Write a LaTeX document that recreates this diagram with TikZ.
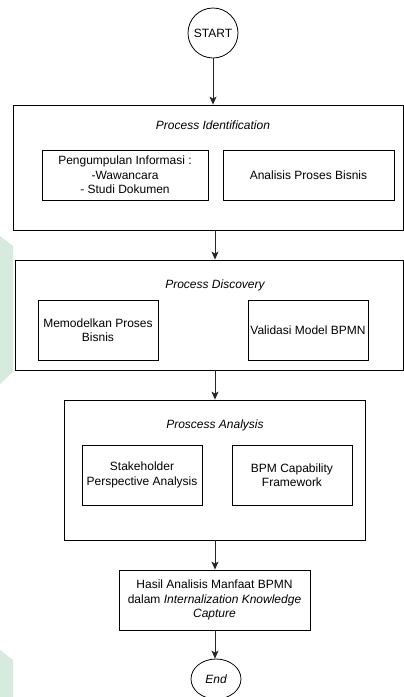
\documentclass[tikz,border=0pt]{standalone}
\usepackage{fontspec}
\setmainfont{Liberation Sans}
\usetikzlibrary{arrows.meta,shapes.geometric}
\definecolor{logogreen}{RGB}{214,234,221}
\tikzset{
  frame/.style={draw=black, line width=0.8pt, rectangle, inner sep=0pt},
  task/.style={draw=black, line width=0.8pt, rectangle, inner sep=2pt, align=center,
    font=\fontsize{12}{14.5}\selectfont},
  title/.style={font=\fontsize{12}{14.5}\selectfont\itshape, inner sep=0pt},
  flow/.style={draw=black!85, line width=0.9pt, -{Stealth[length=8pt,width=7pt,inset=2pt]}},
}
\begin{document}
\begin{tikzpicture}[x=1pt,y=-1pt]
\useasboundingbox[fill=white] (0,0) rectangle (404,697);
% faint background watermark on the left edge
\fill[logogreen] (0,236) -- (13,246) -- (13,372) -- (0,384) -- cycle;
\fill[logogreen] (0,650) -- (13,660) -- (13,697) -- (0,697) -- cycle;

% terminators
\node[draw=black, line width=0.8pt, circle, minimum size=50pt, inner sep=0pt,
  font=\fontsize{12}{14.5}\selectfont] (start) at (213,33) {START};
\node[draw=black, line width=0.8pt, ellipse, minimum width=50pt, minimum height=40pt,
  inner sep=0pt, font=\fontsize{12}{14.5}\selectfont\itshape] (end) at (216,679) {End};

% stage 1: identification
\node[frame, minimum width=390pt, minimum height=125pt] (ident) at (208,167.5) {};
\node[title] (identT) at (213,125) {Process Identification};
\node[task, minimum width=166pt, minimum height=50pt] (info) at (125,175)
  {Pengumpulan Informasi :\\-Wawancara\\- Studi Dokumen};
\node[task, minimum width=171pt, minimum height=50pt] (anal) at (308.5,175)
  {Analisis Proses Bisnis};

% stage 2: discovery
\node[frame, minimum width=388pt, minimum height=110pt] (disc) at (209,315) {};
\node[title] (discT) at (215,285) {Process Discovery};
\node[task, minimum width=120pt, minimum height=60pt] (model) at (98,330)
  {Memodelkan Proses\\Bisnis};
\node[task, minimum width=120pt, minimum height=60pt, inner sep=0pt] (valid) at (308,330)
  {Validasi Model BPMN};

% stage 3: analysis
\node[frame, minimum width=301pt, minimum height=140pt] (analysis) at (214.5,470) {};
\node[title] (analysisT) at (215,425) {Proscess Analysis};
\node[task, minimum width=120pt, minimum height=60pt] (stake) at (142,475)
  {Stakeholder\\Perspective Analysis};
\node[task, minimum width=120pt, minimum height=60pt] (capab) at (292,475)
  {BPM Capability\\Framework};

% outcome
\node[task, minimum width=191pt, minimum height=60pt] (result) at (214.5,600)
  {Hasil Analisis Manfaat BPMN\\dalam \textit{Internalization Knowledge}\\\textit{Capture}};

% connectors
\draw[flow] (start.south) -- (start.south |- ident.north);
\coordinate (c1) at (215,0);
\draw[flow] (c1 |- ident.south) -- (c1 |- disc.north);
\draw[flow] (c1 |- disc.south) -- (c1 |- analysis.north);
\draw[flow] (c1 |- analysis.south) -- (c1 |- result.north);
\draw[flow] (c1 |- result.south) -- (c1 |- end.north);
\end{tikzpicture}
\end{document}
